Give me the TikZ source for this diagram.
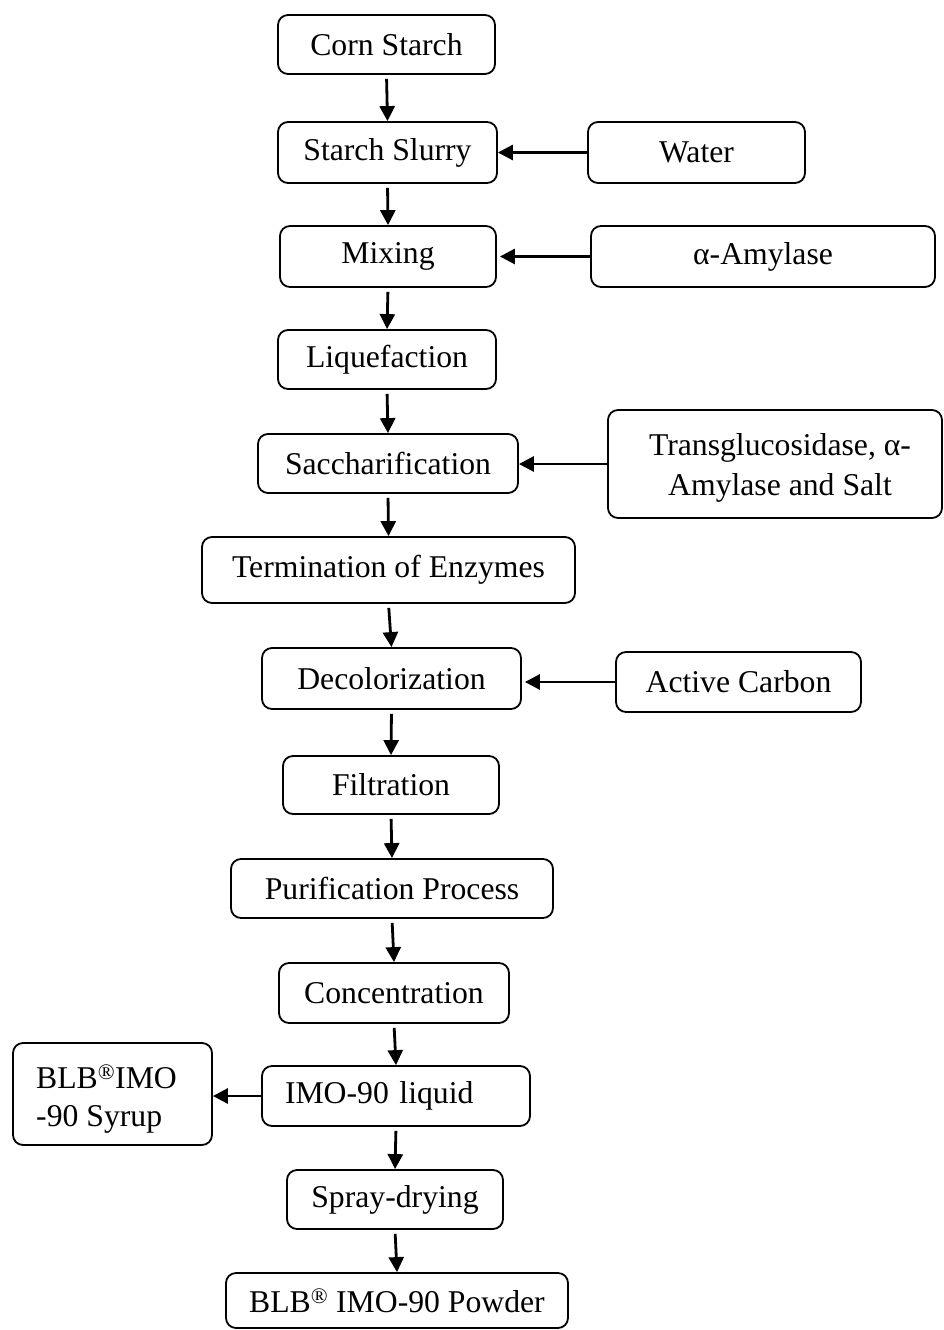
\documentclass[tikz,border=0pt]{standalone}
\usepackage{fontspec}
\setmainfont{Liberation Serif}
\usetikzlibrary{arrows.meta}
\tikzset{
  box/.style={draw, rounded corners=10pt, line width=1.8pt, inner sep=0pt,
    align=center, font=\fontsize{31.7}{38.5}\selectfont},
  flow/.style={line width=2.8pt, -{Triangle[length=15pt,width=15pt]}},
}
\begin{document}
\begin{tikzpicture}[x=1pt,y=-1pt]
\useasboundingbox (0,0) rectangle (943,1330);
\node[box, minimum width=217pt, minimum height=59pt] (cs) at (386.5,44.5) {Corn Starch};
\node[box, minimum width=219pt, minimum height=61pt] (ss) at (387.5,152.5) {Starch Slurry};
\node[box, minimum width=217pt, minimum height=61pt] (water) at (696.5,152.5) {Water};
\node[box, minimum width=216pt, minimum height=61pt] (mix) at (388,256.5) {Mixing};
\node[box, minimum width=344pt, minimum height=61pt] (amyl) at (763,256.5) {α-Amylase};
\node[box, minimum width=218pt, minimum height=59pt] (liq) at (387,359.5) {Liquefaction};
\node[box, minimum width=260pt, minimum height=59pt] (sac) at (388,463.5) {Saccharification};
\node[box, minimum width=334pt, minimum height=108pt] (trans) at (775,464) {};
\node[font=\fontsize{31.7}{39.5}\selectfont, align=center, inner sep=0pt] (transtxt) at (780,468) {Transglucosidase, α-\\Amylase and Salt};
\node[box, minimum width=373pt, minimum height=66pt] (term) at (388.5,570) {Termination of Enzymes};
\node[box, minimum width=259pt, minimum height=61pt] (dec) at (391.5,678.5) {Decolorization};
\node[box, minimum width=245pt, minimum height=60pt] (carbon) at (738.5,682) {Active Carbon};
\node[box, minimum width=216pt, minimum height=58pt] (filt) at (391,785) {Filtration};
\node[box, minimum width=322pt, minimum height=59pt] (pur) at (392,888.5) {Purification Process};
\node[box, minimum width=230pt, minimum height=60pt] (conc) at (394,993) {Concentration};
\node[box, minimum width=268pt, minimum height=60pt, text width=222pt, align=left] (imo) at (396,1096) {IMO-90 liquid};
\node[box, minimum width=199pt, minimum height=102pt] (syr) at (112.5,1094) {};
\node[font=\fontsize{31.7}{38}\selectfont, align=left, inner sep=0pt, anchor=west] (syrtxt) at (36,1099) {BLB\textsuperscript{\textregistered}IMO\\-90 Syrup};
\node[box, minimum width=216pt, minimum height=59pt] (spray) at (395,1199.5) {Spray-drying};
\node[box, minimum width=342pt, minimum height=55pt] (pow) at (397,1300.5) {BLB\textsuperscript{\textregistered} IMO-90 Powder};

\foreach \a/\b in {cs/ss, ss/mix, mix/liq, liq/sac, sac/term, term/dec, dec/filt, filt/pur, pur/conc, conc/imo, imo/spray, spray/pow}
  \draw[flow, shorten <=4pt] (\a.south) -- (\b.north);

\draw[flow] (water.west) -- (ss.east);
\draw[flow, shorten >=3pt] (amyl.west) -- (mix.east);
\draw[flow] (trans.west) -- (trans.west -| sac.east);
\draw[flow, shorten >=3pt] (carbon.west) -- (carbon.west -| dec.east);
\draw[flow] (imo.west) -- (imo.west -| syr.east);
\end{tikzpicture}
\end{document}
